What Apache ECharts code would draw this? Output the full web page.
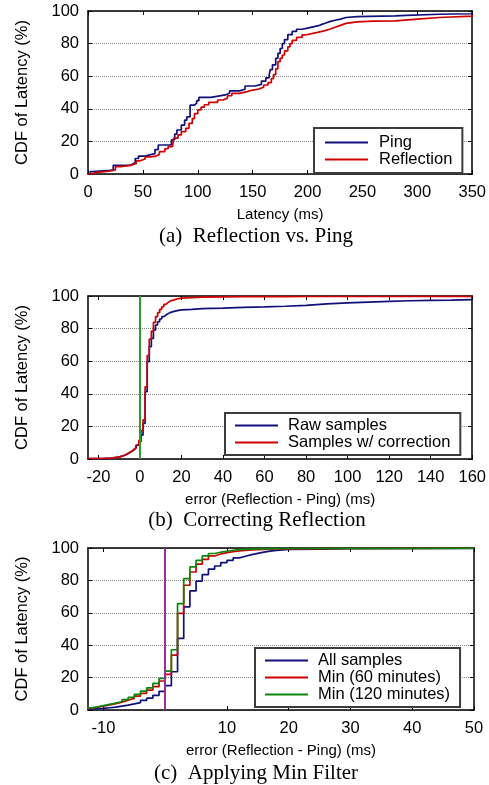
<!DOCTYPE html>
<html><head><meta charset="utf-8">
<script src="https://cdn.jsdelivr.net/npm/echarts@6/dist/echarts.min.js"></script>
<style>html,body{margin:0;padding:0;background:#fff}#c{width:489px;height:785px}</style>
</head><body><div id="c"></div>
<script>
// ---------- Chart (a): Reflection vs. Ping ----------
const aXTicks = [0, 50, 100, 150, 200, 250, 300, 350];
const pingX = [0,2,4,20,23,38,40,43,46,52,58,61,64,74,76,79,81,85,88,90,93,97,99,101,112,116,125,129,138,143,152,158,162,165,166,168,171,173,175,177,179,182,186,190,195,200,205,210,213,216,220,225,230,235,245,280,290,320,350];
const pingY = [0,1.5,2.2,2.5,5.3,5.8,7,9.5,11,12,12.5,15,17.8,18,21,24.5,27,30,33,35,42.3,43.5,45,47,47.5,48.5,49.5,51,52,54,55,57,59,60.5,64,67,71,74,77,80,82.5,85.5,87.5,88.8,89.5,90.3,91,91.8,92.5,93.5,94.3,95,96,96.5,97,97.3,98,98.3,99];
const reflX = [0,3,8,15,22,25,30,40,44,47,52,57,62,65,70,73,77,78,82,85,89,92,95,97,100,103,106,110,118,123,127,131,138,145,150,155,160,164,167,169,171,173,175,177,179,182,184,186,190,195,198,205,210,215,220,225,230,235,245,260,280,300,320,350];
const reflY = [0,1,1.5,2,2.5,4.5,5.5,6.5,8,9.2,10.5,11,12,13.7,15.5,16.8,17.6,22,24,26,28,31,34,37,39.3,41,42.5,44,45.4,46.5,48,49.5,50.5,51.5,52,53.2,54.6,56,58.5,61,64.5,68.9,71,73,75.5,78,80,82,83.8,85.3,86.3,87,87.8,88.8,90,91.2,92.4,93.3,93.8,94,95,96,96.8,97.5];

// ---------- Chart (b): Correcting Reflection ----------
const bXTicks = [-20, 0, 20, 40, 60, 80, 100, 120, 140, 160];
const bX = [-25,-18,-14,-12,-10,-9,-8,-7,-6,-5,-4,-3,-2,-1.5,-0.5,0.5,1.5,2.5,3.5,4.5,5.5,6.5,7.5,8.5,9.5,10.5,11.5,12.5,13.5,14.5,16,18,20,25,30,40,50,60,70,80,90,100,110,120,130,140,150,160];
const bRaw = [0.3,0.5,0.8,1.1,1.6,2.0,2.5,3.1,3.8,4.6,5.5,6.5,7.7,8.5,10.6,14.7,21.9,41.3,59.7,68.9,74.0,79.0,82.2,84.2,85.9,87.3,88.3,89.1,89.8,90.4,91.0,91.5,91.8,92.3,92.6,93.0,93.3,93.7,94.3,95.2,95.8,96.3,96.7,97.1,97.3,97.5,97.8,98.1];
const bCorr = [0.3,0.5,0.8,1.1,1.6,2.0,2.6,3.2,4.0,4.8,5.8,6.9,8.2,9.0,11.5,17.5,24.0,44.3,63.5,73.5,78.5,83.8,87.3,89.8,91.8,93.4,94.9,95.9,96.9,97.5,98.2,98.7,99.0,99.3,99.5,99.6,99.6,99.6,99.7,99.7,99.7,99.7,99.7,99.8,99.8,99.8,99.8,99.8];
const bRefX = 0;

// ---------- Chart (c): Applying Min Filter ----------
const cXTicks = [-10, 10, 20, 30, 40, 50];
const cX = [-13,-12,-11,-10,-9,-8,-7,-6,-5,-4,-3,-2,-1,0,1,2,3,4,5,6,7,8,9,10,11,12,13,14,15,16,17,18,19,20,25,30,40,50];
const cAll = [0.5,0.8,1.0,1.4,1.8,2.4,3.0,3.8,4.6,5.9,7.3,9.0,11.5,15.0,23.6,44.2,63.7,73.5,79.5,83.6,86.9,88.9,91.0,92.4,93.9,94.9,95.9,96.7,97.5,98.1,98.5,98.9,99.1,99.3,99.6,99.7,99.8,99.8];
const cMin60 = [1.0,1.7,2.3,3.1,3.9,4.9,6.0,7.2,8.6,10.3,12.3,14.4,17.9,22.0,33.9,59.6,77.0,85.2,90.0,93.0,95.1,96.3,97.1,97.7,98.2,98.5,98.8,99.0,99.2,99.3,99.4,99.5,99.5,99.6,99.7,99.8,99.9,99.9];
const cMin120 = [1.3,1.9,2.7,3.5,4.3,5.1,6.4,7.8,9.6,11.7,13.7,16.4,19.5,24.0,37.2,65.7,81.1,88.3,92.4,95.1,96.6,97.4,98.0,98.6,99.0,99.2,99.3,99.4,99.5,99.6,99.6,99.7,99.7,99.7,99.8,99.8,99.9,99.9];
const cRefX = 0;

const yTicks = [0, 20, 40, 60, 80, 100];
const yName = 'CDF of Latency (%)';
const captions = ['(a)  Reflection vs. Ping', '(b)  Correcting Reflection', '(c)  Applying Min Filter'];

const SANS = '"Liberation Sans", Arial, sans-serif';
const SERIF = '"Liberation Serif", "Times New Roman", serif';
const NAVY = '#10107a', RED = '#d00000', GREEN = '#0a870a';

const zip = (xs, ys) => xs.map((x, i) => [x, ys[i]]);

const grids = [
  {left: 88, top: 11, width: 386, height: 163},
  {left: 88, top: 296, width: 386, height: 163},
  {left: 88, top: 548, width: 386, height: 162}
];

function xAxes(gi, min, max, ticks, name) {
  const base = {
    gridIndex: gi, type: 'value', min: min, max: max,
    axisLine: {show: true, onZero: false, lineStyle: {color: '#000', width: 1.5}},
    axisTick: {show: true, inside: true, length: 4, customValues: ticks, lineStyle: {color: '#000', width: 1}},
    splitLine: {show: false}
  };
  return [
    Object.assign({}, base, {
      position: 'bottom', name: name, nameLocation: 'middle', nameGap: 33,
      nameTextStyle: {fontSize: 15, fontFamily: SANS, color: '#000'},
      axisLabel: {show: true, customValues: ticks, fontSize: 16.5, color: '#000', margin: 10, fontFamily: SANS}
    }),
    Object.assign({}, base, {position: 'top', axisLabel: {show: false}})
  ];
}
function yAxes(gi) {
  const base = {
    gridIndex: gi, type: 'value', min: 0, max: 100, interval: 20,
    axisLine: {show: true, onZero: false, lineStyle: {color: '#000', width: 1.5}},
    axisTick: {show: true, inside: true, length: 4, customValues: yTicks, lineStyle: {color: '#000', width: 1}}
  };
  return [
    Object.assign({}, base, {
      position: 'left', name: yName, nameLocation: 'middle', nameGap: 57,
      nameTextStyle: {fontSize: 16.5, fontFamily: SANS, color: '#000'},
      axisLabel: {show: true, fontSize: 16.5, color: '#000', margin: 9, fontFamily: SANS},
      splitLine: {show: true, lineStyle: {color: '#888', type: 'dotted', width: 1}}
    }),
    Object.assign({}, base, {position: 'right', axisLabel: {show: false}, splitLine: {show: false}})
  ];
}

function lineSeries(name, gi, data, color) {
  return {
    name: name, type: 'line', step: 'end', xAxisIndex: 2 * gi, yAxisIndex: 2 * gi,
    data: data, showSymbol: false, symbol: 'none', color: color,
    lineStyle: {color: color, width: 1.7}, emphasis: {disabled: true}, z: 3
  };
}
function refLine(x, color) {
  return {
    silent: true, symbol: ['none', 'none'], label: {show: false},
    lineStyle: {color: color, width: 2, type: 'solid'},
    data: [{xAxis: x}]
  };
}

const legendBase = {
  orient: 'vertical', icon: 'rect', itemWidth: 43, itemHeight: 2, itemGap: 0,
  backgroundColor: '#fff', borderColor: '#3c3c3c', borderWidth: 2, borderRadius: 0,
  selectedMode: false
};

const sB1 = lineSeries('Raw samples', 1, zip(bX, bRaw), NAVY);
sB1.markLine = refLine(bRefX, '#2e9a2e');
const sC1 = lineSeries('All samples', 2, zip(cX, cAll), NAVY);
sC1.markLine = refLine(cRefX, '#9a2f9a');

const option = {
  animation: false,
  backgroundColor: '#fff',
  grid: grids,
  xAxis: [].concat(
    xAxes(0, 0, 350, aXTicks, 'Latency (ms)'),
    xAxes(1, -25, 160, bXTicks, 'error (Reflection - Ping) (ms)'),
    xAxes(2, -12.5, 50, cXTicks, 'error (Reflection - Ping) (ms)')
  ),
  yAxis: [].concat(yAxes(0), yAxes(1), yAxes(2)),
  legend: [
    Object.assign({}, legendBase, {
      left: 314, top: 128, padding: [6, 10, 5, 11],
      data: ['Ping', 'Reflection'],
      textStyle: {fontSize: 16.5, fontFamily: SANS, color: '#000', lineHeight: 15, padding: [0, 0, 0, 6]}
    }),
    Object.assign({}, legendBase, {
      left: 225, top: 413, padding: [4, 10, 4, 10],
      data: ['Raw samples', 'Samples w/ correction'],
      textStyle: {fontSize: 16.5, fontFamily: SANS, color: '#000', lineHeight: 16.7, padding: [0, 0, 0, 5]}
    }),
    Object.assign({}, legendBase, {
      left: 255, top: 648, padding: [4, 10, 4, 10],
      data: ['All samples', 'Min (60 minutes)', 'Min (120 minutes)'],
      textStyle: {fontSize: 16.5, fontFamily: SANS, color: '#000', lineHeight: 16.7, padding: [0, 0, 0, 5]}
    })
  ],
  series: [
    lineSeries('Ping', 0, zip(pingX, pingY), NAVY),
    lineSeries('Reflection', 0, zip(reflX, reflY), RED),
    sB1,
    lineSeries('Samples w/ correction', 1, zip(bX, bCorr), RED),
    sC1,
    lineSeries('Min (60 minutes)', 2, zip(cX, cMin60), RED),
    lineSeries('Min (120 minutes)', 2, zip(cX, cMin120), GREEN)
  ],
  graphic: [
    {type: 'text', x: 256, y: 236, style: {text: captions[0], font: '21px ' + SERIF, fill: '#000', align: 'center', verticalAlign: 'middle'}},
    {type: 'text', x: 257, y: 520, style: {text: captions[1], font: '21px ' + SERIF, fill: '#000', align: 'center', verticalAlign: 'middle'}},
    {type: 'text', x: 256, y: 773, style: {text: captions[2], font: '21px ' + SERIF, fill: '#000', align: 'center', verticalAlign: 'middle'}}
  ]
};
const chart = echarts.init(document.getElementById('c'), null, {renderer: 'canvas'});
chart.setOption(option);
</script></body></html>
